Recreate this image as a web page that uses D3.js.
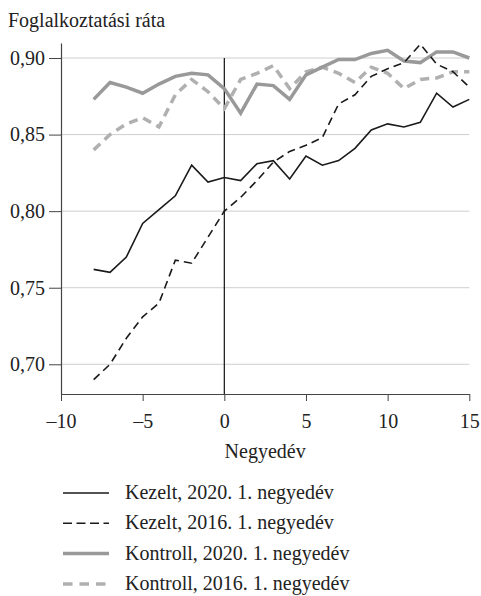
<!DOCTYPE html>
<html>
<head>
<meta charset="utf-8">
<script src="https://cdn.jsdelivr.net/npm/d3@7"></script>
<style>
  body { margin: 0; background: #fff; }
</style>
</head>
<body>
<div id="chart"></div>
<script>
// Data (quarters relative to treatment)
const quarters = d3.range(-8, 16);
const kezelt2020 = [0.762, 0.760, 0.770, 0.792, 0.801, 0.810, 0.830, 0.819, 0.822, 0.820, 0.831, 0.833,
                    0.821, 0.836, 0.830, 0.833, 0.841, 0.853, 0.857, 0.855, 0.858, 0.877, 0.868, 0.873];
const kezelt2016 = [0.690, 0.700, 0.717, 0.731, 0.740, 0.768, 0.766, 0.783, 0.800, 0.809, 0.820, 0.832,
                    0.839, 0.843, 0.848, 0.870, 0.876, 0.888, 0.893, 0.897, 0.909, 0.896, 0.891, 0.881];
const kontroll2020 = [0.873, 0.884, 0.881, 0.877, 0.883, 0.888, 0.890, 0.889, 0.880, 0.864, 0.883, 0.882,
                      0.873, 0.889, 0.894, 0.899, 0.899, 0.903, 0.905, 0.898, 0.897, 0.904, 0.904, 0.900];
const kontroll2016 = [0.840, 0.850, 0.857, 0.861, 0.855, 0.876, 0.886, 0.878, 0.867, 0.886, 0.890, 0.895,
                      0.880, 0.891, 0.894, 0.890, 0.884, 0.894, 0.890, 0.880, 0.886, 0.887, 0.891, 0.891];
const xTicks = [-10, -5, 0, 5, 10, 15];
const yTicks = [0.70, 0.75, 0.80, 0.85, 0.90];
const seriesNames = ["Kezelt, 2020. 1. negyedév", "Kezelt, 2016. 1. negyedév",
                     "Kontroll, 2020. 1. negyedév", "Kontroll, 2016. 1. negyedév"];

const FONT = "'Liberation Serif', 'DejaVu Serif', serif";
const FS = "20px";
const width = 481, height = 596;
const svg = d3.select("#chart").append("svg")
    .attr("width", width)
    .attr("height", height)
    .attr("font-family", FONT);

const x = d3.scaleLinear().domain([-10, 15]).range([61, 469.3]);
const y = d3.scaleLinear().domain([0.6806, 0.9098]).range([394, 43]);

// gridlines
svg.append("g").selectAll("line")
    .data(yTicks)
    .join("line")
    .attr("x1", x(-10)).attr("x2", x(15))
    .attr("y1", d => y(d)).attr("y2", d => y(d))
    .attr("stroke", "#cfcfcf")
    .attr("stroke-width", 1);

// y axis
const fmt = d => d3.format(".2f")(d).replace(".", ",");
const yAxis = svg.append("g")
    .attr("transform", `translate(${x(-10)},0)`)
    .call(d3.axisLeft(y).tickValues(yTicks).tickFormat(fmt).tickSize(12).tickPadding(4).tickSizeOuter(0));
yAxis.attr("font-family", FONT).attr("font-size", FS);
yAxis.select(".domain").attr("stroke", "#444").attr("stroke-width", 1.2);
yAxis.selectAll(".tick line").attr("stroke", "#444");
yAxis.selectAll("text").attr("fill", "#222");

// x axis
const xAxis = svg.append("g")
    .attr("transform", `translate(0,${y.range()[0]})`)
    .call(d3.axisBottom(x).tickValues(xTicks).tickFormat(d => d < 0 ? "–" + Math.abs(d) : d)
        .tickSize(7).tickPadding(13).tickSizeOuter(0));
xAxis.attr("font-family", FONT).attr("font-size", FS);
xAxis.select(".domain").attr("stroke", "#444").attr("stroke-width", 1.2);
xAxis.selectAll(".tick line").attr("stroke", "#444");
xAxis.selectAll("text").attr("fill", "#222");

// vertical reference line at 0
svg.append("line")
    .attr("x1", x(0)).attr("x2", x(0))
    .attr("y1", y(0.90)).attr("y2", y.range()[0])
    .attr("stroke", "#111")
    .attr("stroke-width", 1.2);

// axis titles
svg.append("text")
    .attr("x", 8).attr("y", 27)
    .attr("font-size", FS)
    .attr("fill", "#222")
    .text("Foglalkoztatási ráta");
svg.append("text")
    .attr("x", (x(-10) + x(15)) / 2).attr("y", 458)
    .attr("text-anchor", "middle")
    .attr("font-size", FS)
    .attr("fill", "#222")
    .text("Negyedév");

// lines
const styles = [
    { values: kezelt2020, color: "#1a1a1a", width: 1.6, dash: null },
    { values: kezelt2016, color: "#1a1a1a", width: 1.6, dash: "8,5" },
    { values: kontroll2020, color: "#999999", width: 3.5, dash: null },
    { values: kontroll2016, color: "#b0b0b0", width: 3.5, dash: "9,6" }
];

const line = d3.line()
    .x(d => x(d[0]))
    .y(d => y(d[1]));

// draw grey first, black on top
[3, 2, 1, 0].forEach(i => {
    const s = styles[i];
    svg.append("path")
        .datum(quarters.map((q, j) => [q, s.values[j]]))
        .attr("fill", "none")
        .attr("stroke", s.color)
        .attr("stroke-width", s.width)
        .attr("stroke-dasharray", s.dash)
        .attr("d", line);
});

// legend
const legend = svg.append("g").attr("transform", "translate(63,493)");
seriesNames.forEach((name, i) => {
    const s = styles[i];
    legend.append("line")
        .attr("x1", 0).attr("x2", 46)
        .attr("y1", i * 30.3).attr("y2", i * 30.3)
        .attr("stroke", s.color)
        .attr("stroke-width", s.width)
        .attr("stroke-dasharray", i === 1 ? "9,4.5" : i === 3 ? "9.5,7" : null);
    legend.append("text")
        .attr("x", 62).attr("y", i * 30.3 + 6)
        .attr("font-size", FS)
        .attr("fill", "#222")
        .text(name);
});
</script>
</body>
</html>
